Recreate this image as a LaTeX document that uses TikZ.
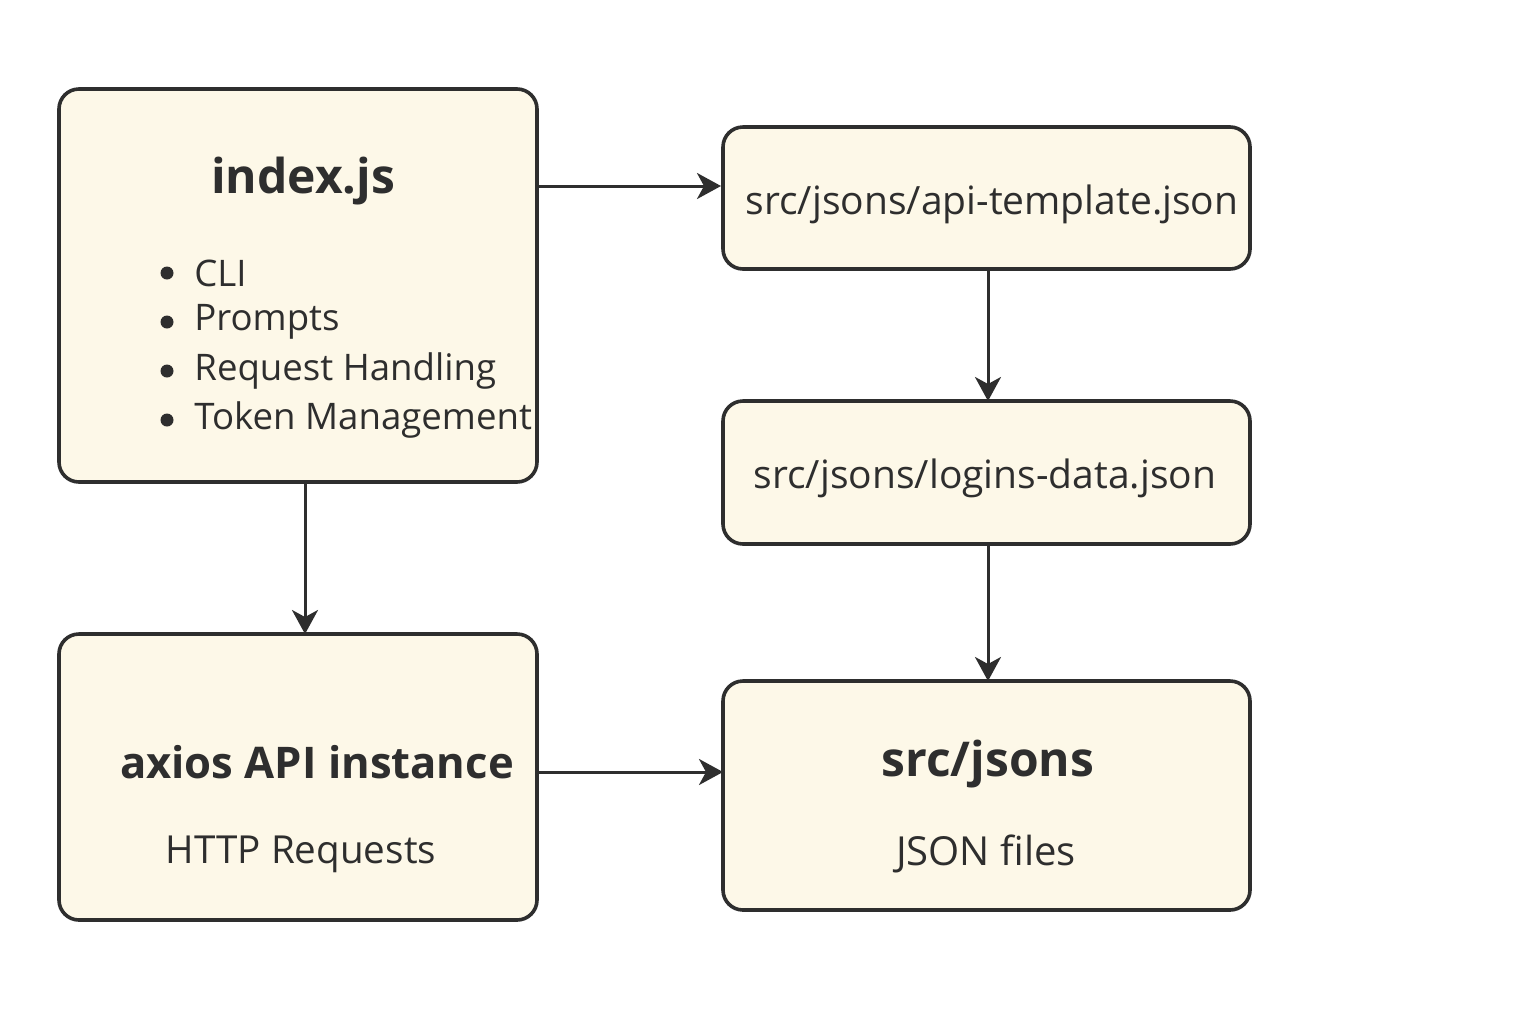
\documentclass[tikz,border=0pt]{standalone}
\usepackage{fontspec}
\setmainfont{Open Sans}
\usetikzlibrary{arrows.meta}
\definecolor{boxfill}{HTML}{FDF8E8}
\definecolor{ink}{HTML}{2E2E2E}
\begin{document}
\begin{tikzpicture}[x=0.5pt,y=-0.5pt,
  box/.style={draw=ink,line width=1.8pt,fill=boxfill,rounded corners=10pt},
  conn/.style={draw=ink,line width=1.5pt,-{Stealth[length=12pt,width=13pt,inset=3.5pt]}},
  lbl/.style={text=ink,inner sep=0pt,anchor=center},
  bul/.style={fill=ink,circle,inner sep=0pt,minimum size=6.5pt},
  item/.style={text=ink,inner sep=0pt,anchor=west,font=\fontsize{18.3}{22}\selectfont},
  font=\fontsize{19.5}{23}\selectfont]
\useasboundingbox[fill=white] (0,0) rectangle (1536,1024);
% boxes
\draw[box] (59,89) rectangle (537,482);
\draw[box] (723,127) rectangle (1250,269);
\draw[box] (723,401) rectangle (1250,544);
\draw[box] (59,634) rectangle (537,920);
\draw[box] (723,681) rectangle (1250,910);
% named anchors
\coordinate (idxR) at (537,186);
\coordinate (apiL) at (721,186);
\coordinate (apiB) at (988,269);
\coordinate (logT) at (988,401);
\coordinate (logB) at (988,544);
\coordinate (srcT) at (988,681);
\coordinate (idxB) at (305,482);
\coordinate (axT) at (305,634);
\coordinate (axR) at (537,772);
\coordinate (srcL) at (723,772);
% texts
\node[lbl,font=\fontsize{24}{28}\selectfont\bfseries] (idx) at (303,181) {index.js};
\node[bul] (d1) at (167,273) {};
\node[bul] (d2) at (167,322) {};
\node[bul] (d3) at (167,371) {};
\node[bul] (d4) at (167,420) {};
\node[item] (b1) at (194,273) {CLI};
\node[item] (b2) at (194,322) {Prompts};
\node[item] (b3) at (194,371) {Request Handling};
\node[item] (b4) at (194,420) {Token Management};
\node[lbl] (api) at (992,204) {src/jsons/api-template.json};
\node[lbl] (log) at (985,478) {src/jsons/logins-data.json};
\node[lbl,font=\fontsize{21.8}{26}\selectfont\bfseries] (ax) at (317,762) {axios API instance};
\node[lbl,font=\fontsize{19.3}{23}\selectfont] (http) at (301,854) {HTTP Requests};
\node[lbl,font=\fontsize{24}{28}\selectfont\bfseries] (src) at (988,764) {src/jsons};
\node[lbl,font=\fontsize{20}{24}\selectfont] (jf) at (986,854) {JSON files};
% connectors
\draw[conn] (idxR) -- (apiL);
\draw[conn] (apiB) -- (logT);
\draw[conn] (logB) -- (srcT);
\draw[conn] (idxB) -- (axT);
\draw[conn] (axR) -- (srcL);
\end{tikzpicture}
\end{document}
